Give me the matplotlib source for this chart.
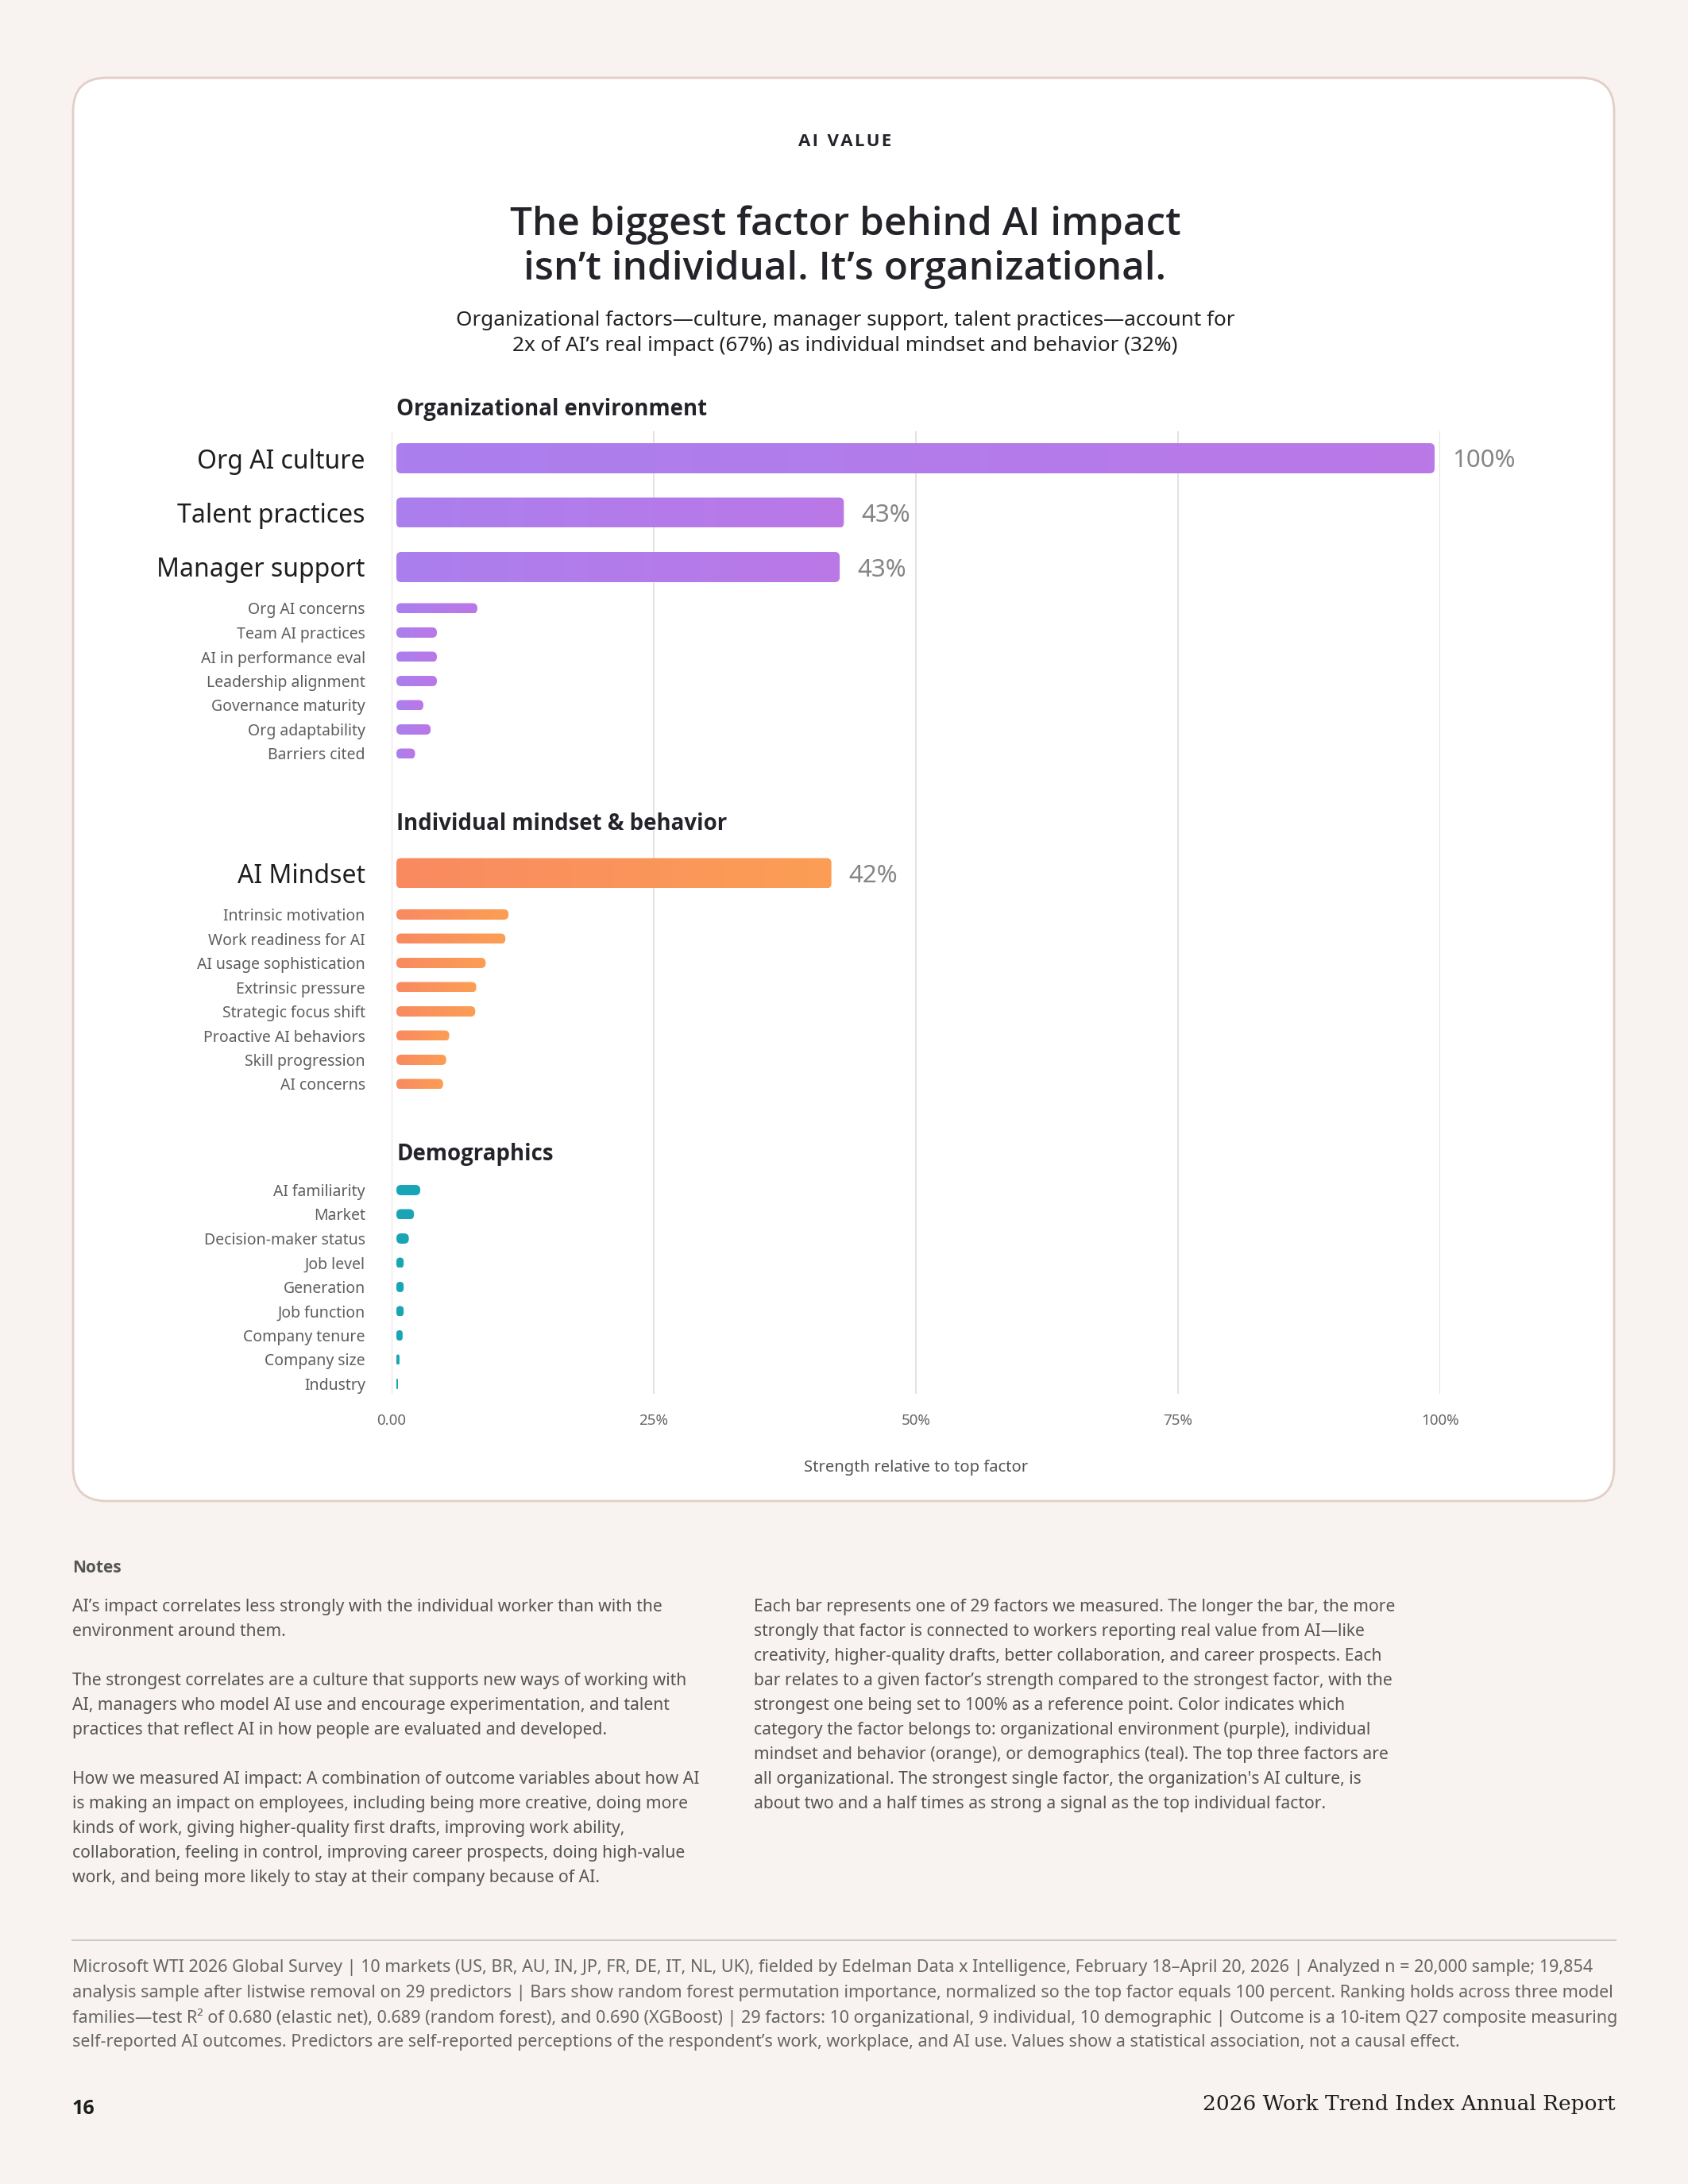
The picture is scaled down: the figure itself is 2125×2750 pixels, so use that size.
import numpy as np
import matplotlib.pyplot as plt
from matplotlib.patches import FancyBboxPatch
from matplotlib.colors import LinearSegmentedColormap

W, H = 2125, 2750
DPI = 100
plt.rcParams['font.family'] = ['Noto Sans', 'DejaVu Sans']
BOLD = ['Open Sans', 'Roboto', 'DejaVu Sans']

# data
org_labels = ['Org AI culture', 'Talent practices', 'Manager support', 'Org AI concerns',
              'Team AI practices', 'AI in performance eval', 'Leadership alignment',
              'Governance maturity', 'Org adaptability', 'Barriers cited']
org_values = [100, 43.1, 42.7, 7.8, 3.9, 3.9, 3.9, 2.6, 3.3, 1.8]

ind_labels = ['AI Mindset', 'Intrinsic motivation', 'Work readiness for AI',
              'AI usage sophistication', 'Extrinsic pressure', 'Strategic focus shift',
              'Proactive AI behaviors', 'Skill progression', 'AI concerns']
ind_values = [41.9, 10.8, 10.5, 8.6, 7.7, 7.6, 5.1, 4.8, 4.5]

demo_labels = ['AI familiarity', 'Market', 'Decision-maker status', 'Job level', 'Generation',
               'Job function', 'Company tenure', 'Company size', 'Industry']
demo_values = [2.3, 1.7, 1.2, 0.7, 0.7, 0.7, 0.6, 0.3, 0.15]

tick_values = [0, 25, 50, 75, 100]
tick_labels = ['0.00', '25%', '50%', '75%', '100%']

sections = [
    ('Organizational environment', org_labels, org_values, 3, ('#AB7FEE', '#BB78E7')),
    ('Individual mindset & behavior', ind_labels, ind_values, 1, ('#F98A61', '#FC9E55')),
    ('Demographics', demo_labels, demo_values, 0, ('#1AA5B5', '#1AA5B5')),
]

PAGE = '#F8F3F1'
DARK = '#24232A'
GREY = '#5E5E5E'


def fx(x):
    return x / W


def fy(y):
    return 1 - y / H


fig = plt.figure(figsize=(W / DPI, H / DPI), dpi=DPI, facecolor=PAGE)

# white card
card = FancyBboxPatch((0.92, (H - 1890) / DPI), 19.40, 17.92,
                      boxstyle='round,pad=0,rounding_size=0.42',
                      transform=fig.dpi_scale_trans, facecolor='white',
                      edgecolor='#E2CEC5', lw=2, zorder=-5)
fig.add_artist(card)

# header texts
fig.text(fx(1064), fy(178), '\u200a'.join('AI') + '  ' + '\u200a'.join('VALUE'),
         ha='center', va='center', fontsize=16, fontweight='bold', family=BOLD, color=DARK)
for i, line in enumerate(['The biggest factor behind AI impact',
                          'isn\u2019t individual. It\u2019s organizational.']):
    fig.text(fx(1064), fy(283 + 57 * i), line, ha='center', va='center',
             fontsize=35.6, fontweight='semibold', family=BOLD, color=DARK)
for i, line in enumerate(['Organizational factors\u2014culture, manager support, talent practices\u2014account for',
                          '2x of AI\u2019s real impact (67%) as individual mindset and behavior (32%)']):
    fig.text(fx(1064), fy(403 + 33 * i), line, ha='center', va='center',
             fontsize=18.8, color='#222222')

# chart axes (pixel layout)
top, bottom = 543, 1755
gx0, gx1 = 493, 1813
bx0, bx1 = 499, 1806
ax = fig.add_axes([fx(gx0), fy(bottom), fx(gx1) - fx(gx0), (bottom - top) / H])
bx = fig.add_axes([fx(bx0), fy(bottom), fx(bx1) - fx(bx0), (bottom - top) / H], sharey=ax)
for a in (ax, bx):
    a.set_facecolor('none')
    for s in a.spines.values():
        s.set_visible(False)
ax.set_xlim(0, 100)
bx.set_xlim(0, 100)
ax.set_ylim(bottom, top)

px_per_unit = (bx1 - bx0) / 100.0

# row layout
ypos, ylabels, big_flags = [], [], []
header_y = 515
for title, labels, values, nbig, cols in sections:
    bx.text(0, header_y, title, ha='left', va='center', fontsize=19.9,
            fontweight='bold', family=BOLD, color=DARK, clip_on=False)
    y = header_y + 62 if nbig else header_y + 45
    rows = []
    for i in range(len(labels)):
        if i < nbig:
            rows.append(y)
            y += 68.5
        else:
            if i == nbig and nbig:
                y = rows[-1] + 52
            rows.append(y)
            y += 30.5
    header_y = rows[-1] + 88.5

    cmap = LinearSegmentedColormap.from_list('g', list(cols))
    grad = np.linspace(0, 1, 256).reshape(1, -1)
    for i, (lab, v, yy) in enumerate(zip(labels, values, rows)):
        big = i < nbig
        h = 38 if big else 13
        rect = bx.barh(yy, v, height=h, color='none')[0]
        x0, y0, w, hh = rect.get_x(), rect.get_y(), rect.get_width(), rect.get_height()
        rect.remove()
        r = min(6.0 / px_per_unit, w / 2)
        patch = FancyBboxPatch((x0, y0), w, hh, boxstyle=f'round,pad=0,rounding_size={r}',
                               mutation_aspect=px_per_unit, facecolor='none',
                               edgecolor='none')
        bx.add_patch(patch)
        im = bx.imshow(grad, extent=(x0, x0 + w, y0 + hh, y0), cmap=cmap,
                       aspect='auto', interpolation='bilinear', zorder=3)
        im.set_clip_path(patch)
        if big:
            bx.annotate(f'{round(v)}%', (v, yy), xytext=(16, 0), textcoords='offset points',
                        ha='left', va='center_baseline', fontsize=22.5, color='#858585')
        ypos.append(yy)
        ylabels.append(lab)
        big_flags.append(big)

bx.set_xlim(0, 100)
ax.set_ylim(bottom, top)
bx.set_ylim(bottom, top)
bx.set_xticks([])
bx.tick_params(left=False, labelleft=False)

ax.set_yticks(ypos)
ax.set_yticklabels(ylabels)
for t, big in zip(ax.get_yticklabels(), big_flags):
    if big:
        t.set_fontsize(23)
        t.set_color('#1E1E1E')
    else:
        t.set_fontsize(14)
        t.set_color(GREY)
ax.tick_params(axis='y', length=0, pad=24)

ax.set_xticks(tick_values)
ax.set_xticklabels(tick_labels)
ax.tick_params(axis='x', length=0, pad=18, labelsize=13.5, labelcolor='#666666')
ax.grid(axis='x', color='#E5E1E1', lw=1.4)
ax.set_axisbelow(True)
ax.set_xlabel('Strength relative to top factor', fontsize=14.5, color='#555555', labelpad=29)

# notes
fig.text(fx(91), fy(1974), 'Notes', ha='left', va='center', fontsize=15,
         fontweight='bold', family=BOLD, color='#555555')
left_lines = [
    'AI\u2019s impact correlates less strongly with the individual worker than with the',
    'environment around them.',
    '',
    'The strongest correlates are a culture that supports new ways of working with',
    'AI, managers who model AI use and encourage experimentation, and talent',
    'practices that reflect AI in how people are evaluated and developed.',
    '',
    'How we measured AI impact: A combination of outcome variables about how AI',
    'is making an impact on employees, including being more creative, doing more',
    'kinds of work, giving higher-quality first drafts, improving work ability,',
    'collaboration, feeling in control, improving career prospects, doing high-value',
    'work, and being more likely to stay at their company because of AI.',
]
right_lines = [
    'Each bar represents one of 29 factors we measured. The longer the bar, the more',
    'strongly that factor is connected to workers reporting real value from AI\u2014like',
    'creativity, higher-quality drafts, better collaboration, and career prospects. Each',
    'bar relates to a given factor\u2019s strength compared to the strongest factor, with the',
    'strongest one being set to 100% as a reference point. Color indicates which',
    'category the factor belongs to: organizational environment (purple), individual',
    'mindset and behavior (orange), or demographics (teal). The top three factors are',
    'all organizational. The strongest single factor, the organization\'s AI culture, is',
    'about two and a half times as strong a signal as the top individual factor.',
]
for i, line in enumerate(left_lines):
    fig.text(fx(91), fy(2021 + 31 * i), line, ha='left', va='center_baseline',
             fontsize=15.2, color='#555555')
for i, line in enumerate(right_lines):
    fig.text(fx(949), fy(2021 + 31 * i), line, ha='left', va='center_baseline',
             fontsize=15.2, color='#555555')

# footer
fig.add_artist(plt.Line2D([fx(91), fx(2034)], [fy(2443), fy(2443)],
                          transform=fig.transFigure, color='#CFCBC9', lw=1.5))
foot_lines = [
    'Microsoft WTI 2026 Global Survey | 10 markets (US, BR, AU, IN, JP, FR, DE, IT, NL, UK), fielded by Edelman Data x Intelligence, February 18\u2013April 20, 2026 | Analyzed n = 20,000 sample; 19,854',
    'analysis sample after listwise removal on 29 predictors | Bars show random forest permutation importance, normalized so the top factor equals 100 percent. Ranking holds across three model',
    'families\u2014test R\u00b2 of 0.680 (elastic net), 0.689 (random forest), and 0.690 (XGBoost) | 29 factors: 10 organizational, 9 individual, 10 demographic | Outcome is a 10-item Q27 composite measuring',
    'self-reported AI outcomes. Predictors are self-reported perceptions of the respondent\u2019s work, workplace, and AI use. Values show a statistical association, not a causal effect.',
]
for i, line in enumerate(foot_lines):
    fig.text(fx(91), fy(2475 + 31.5 * i), line, ha='left', va='center_baseline',
             fontsize=15.5, color='#666666')

fig.text(fx(91), fy(2656), '16', ha='left', va='center', fontsize=18,
         fontweight='bold', family=BOLD, color='#1E1E1E')
fig.text(fx(2034), fy(2649), '2026 Work Trend Index Annual Report', ha='right',
         va='center', fontsize=19, family='DejaVu Serif', color='#1E1E1E')

fig.savefig('out.png', dpi=DPI, facecolor=PAGE)
